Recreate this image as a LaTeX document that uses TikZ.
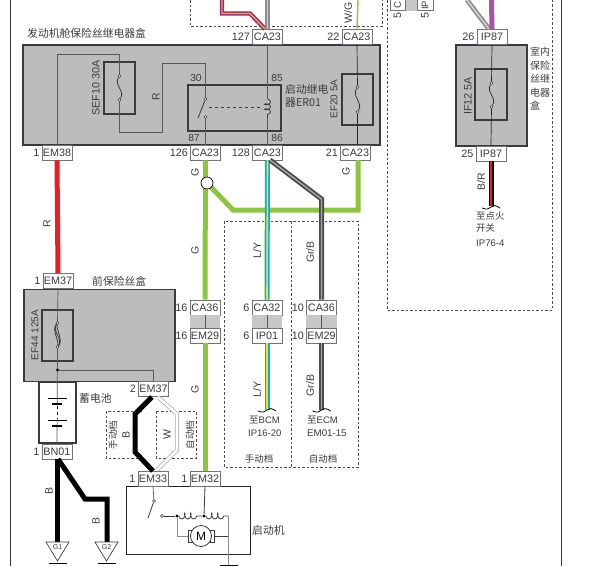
\documentclass[tikz,border=0pt]{standalone}
\usepackage{fontspec}
\setmainfont{Liberation Sans}
\newfontfamily\cjk{Noto Sans CJK SC}
\usetikzlibrary{positioning,decorations.pathmorphing}
\definecolor{boxgrey}{HTML}{BCBCBE}
\definecolor{edgegrey}{HTML}{3A3A3C}
\definecolor{txtgrey}{HTML}{3C3C3E}
\definecolor{wiregreen}{HTML}{8CC63F}
\definecolor{wireblue}{HTML}{00AEEF}
\definecolor{wirered}{HTML}{ED1C24}
\definecolor{wirepurple}{HTML}{92278F}
\definecolor{wireorange}{HTML}{F7A81B}
\tikzset{
  conn/.style={draw=black!55,fill=white,line width=0.8pt,minimum width=30pt,minimum height=15pt,inner sep=0pt,font=\fontsize{10.8}{10.8}\selectfont,text=txtgrey},
  pinno/.style={inner sep=0pt,font=\fontsize{10.8}{10.8}\selectfont,text=txtgrey},
  lbl/.style={inner sep=0pt,font=\fontsize{10.5}{10.5}\selectfont,text=txtgrey},
  sidelbl/.style={lbl,rotate=90},
  cn/.style={inner sep=0pt,font=\cjk\fontsize{10.8}{12.5}\selectfont,text=txtgrey,align=left},
  fusebox/.style={draw=edgegrey,line width=1.2pt,fill=boxgrey},
  thin wire/.style={draw=black!65,line width=0.7pt},
  dashbox/.style={draw=black!70,line width=0.7pt,dash pattern=on 2.5pt off 2pt},
  greenw/.style={wiregreen,line width=5pt},
  redw/.style={wirered,line width=5pt},
  blackw/.style={black,line width=5pt,line join=miter},
  blyw/.style={wireblue,line width=1.7pt,double=yellow!85!orange,double distance=1.6pt},
  grbw/.style={black!70,line width=1.8pt,double=black!35,double distance=1.4pt},
  brw/.style={black,line width=1.5pt,double=wirered,double distance=2pt},
  whw/.style={black!35,line width=0.7pt,double=white,double distance=2.6pt},
  gyw/.style={black!45,line width=1.6pt,double=black!18,double distance=1.6pt},
  puw/.style={wirepurple,line width=1.5pt,double=wireorange,double distance=1.4pt},
  pinhole/.style={circle,draw=edgegrey,fill=white,line width=0.6pt,minimum size=3pt,inner sep=0pt},
  dot/.style={circle,fill=black,minimum size=3.2pt,inner sep=0pt}
}
% tag with pin number: name, position, connector, pin
\newcommand{\tagbox}[4]{\node[conn] (#1) at (#2) {#3};
  \node[pinno,left=2pt of #1] (#1n) {#4};}
% fuse symbol between two pin holes
\newcommand{\fusesym}[4]{\node[pinhole] (#4t) at (#1,#2) {};
  \node[pinhole] (#4b) at (#1,#3) {};
  \draw[edgegrey,line width=0.8pt] (#4t) .. controls (#1-6,#2+9) and (#1+6,#3-9) .. (#4b);}
% cut wire end
\newcommand{\wireend}[2]{\draw[black,line width=0.8pt] (#1-9,#2+1) .. controls (#1-4,#2+3) and (#1-2,#2+2) .. (#1,#2) .. controls (#1+2,#2-2) and (#1+5,#2-2) .. (#1+9,#2+1);}
\begin{document}
\begin{tikzpicture}[x=1pt,y=-1pt]
  \useasboundingbox (0,0) rectangle (606,566);
  \fill[white] (0,0) rectangle (606,566);
  % page frame
  \draw[black!80,line width=0.9pt] (10,0) -- (10,566);
  \draw[black!80,line width=0.9pt] (561,0) -- (561,566);
  % dashed areas
  \draw[dashbox] (190,0) -- (190,26) -- (382,26) -- (382,0);
  \draw[dashbox] (387,0) -- (387,310) -- (552,310) -- (552,0);
  \draw[dashbox] (224,221) rectangle (358,467);
  \draw[dashbox,line width=1pt] (291,221) -- (291,467);
  \draw[dashbox] (142,411) -- (106,411) -- (106,458) -- (142,458);
  \draw[dashbox] (156,411) rectangle (196,458);

  % boxes
  \node[fusebox,minimum width=357pt,minimum height=100pt,inner sep=0pt] (enginebox) at (201.5,95) {};
  \node[fusebox,minimum width=71pt,minimum height=101pt,inner sep=0pt] (roombox) at (491.5,95.5) {};
  \node[fusebox,minimum width=151pt,minimum height=92pt,inner sep=0pt] (frontbox) at (99.5,335.5) {};
  \node[draw=edgegrey,line width=1.2pt,minimum width=37pt,minimum height=61pt,inner sep=0pt] (battbox) at (57.5,412.5) {};
  \node[draw=black!85,line width=1pt,minimum width=124pt,minimum height=68pt,inner sep=0pt] (startbox) at (188,520) {};
  \node[fusebox,minimum width=31pt,minimum height=52pt,inner sep=0pt] (sefbox) at (119.5,88) {};
  \node[fusebox,minimum width=93pt,minimum height=46pt,inner sep=0pt] (relaybox) at (234.5,108) {};
  \node[fusebox,minimum width=31pt,minimum height=51pt,inner sep=0pt] (efbox) at (357.5,99.5) {};
  \node[fusebox,minimum width=32pt,minimum height=51pt,inner sep=0pt] (ifbox) at (491,94.5) {};
  \node[fusebox,minimum width=31pt,minimum height=51pt,inner sep=0pt] (ef44box) at (57.5,335.5) {};

  % connectors
  \tagbox{ca127}{267.5,36.5}{CA23}{127}
  \tagbox{ca22}{357,36.5}{CA23}{22}
  \tagbox{em38}{57,152.5}{EM38}{1}
  \tagbox{ca126}{205.5,152.5}{CA23}{126}
  \tagbox{ca128}{267.5,152.5}{CA23}{128}
  \tagbox{ca21}{355.5,152.5}{CA23}{21}
  \tagbox{ipa}{492,37}{IP87}{26}
  \tagbox{ipb}{491,153.5}{IP87}{25}
  \tagbox{em37a}{58,281}{EM37}{1}
  \tagbox{em37b}{153.5,389}{EM37}{2}
  \tagbox{bn01}{57,451.5}{BN01}{1}
  \tagbox{em33}{153,478.5}{EM33}{1}
  \tagbox{em32}{205,478.5}{EM32}{1}
  \tagbox{ca36a}{205,307.5}{CA36}{16}
  \tagbox{em29a}{205,335.5}{EM29}{16}
  \tagbox{ca32}{267,307.5}{CA32}{6}
  \tagbox{ip01}{267,335.5}{IP01}{6}
  \tagbox{ca36b}{321.5,307.5}{CA36}{10}
  \tagbox{em29b}{321.5,335.5}{EM29}{10}
  \foreach \up/\lo in {ca36a/em29a,ca32/ip01,ca36b/em29b}{
    \fill[black!22] (\up.south west) rectangle (\lo.north east);
    \draw[thin wire] (\up.south) -- (\lo.north);
  }
  % cut connectors at the top edge
  \fill[black!22] (405,0) rectangle (417,11);
  \draw[black!55,line width=0.8pt,fill=white] (390,-2) rectangle (405,10);
  \draw[black!55,line width=0.8pt,fill=white] (417,-2) rectangle (433,10);
  \node[pinno,rotate=90,font=\fontsize{9.5}{9.5}\selectfont] (cutc) at (397.5,5) {C};
  \node[pinno,rotate=90,font=\fontsize{9.5}{9.5}\selectfont] (cutip) at (425,5.2) {IP};
  \node[pinno,rotate=90] (cutcn) at (397.5,15.5) {5};
  \node[pinno,rotate=90] (cutipn) at (425,15.5) {5};

  % wires between connectors
  \coordinate (gsplit) at (207,183);
  \draw[greenw] (ca126.south) -- (ca36a.north);
  \draw[greenw] (em29a.south) -- (em32.north);
  \draw[greenw] (gsplit) -- (233,210) -- (358,210) -- (358,160);
  \node[circle,draw=black,fill=white,line width=0.7pt,minimum size=12pt,inner sep=0pt] (gnode) at (gsplit) {};
  \draw[redw] (em38.south) -- (em37a.north);
  \draw[blyw] (ca128.south) -- (ca32.north);
  \draw[blyw] (ip01.south) -- (267,410);
  \draw[grbw] (270,160) -- (321.5,199) -- (ca36b.north);
  \draw[grbw] (em29b.south) -- (321.5,410);
  \draw[brw] (ipb.south) -- (491,206);
  \draw[blackw] (152,397) -- (135,414) -- (135,452) -- (153,471);
  \draw[whw] (158,397) -- (177,414) -- (177,450) -- (157,470);
  \draw[blackw] (57,459) -- (57,543);
  \draw[blackw] (58,459) -- (85,499) -- (107,499) -- (107,543);
  \draw[puw] (222,0) -- (222,13.5) -- (250,13.5) -- (265,29);
  \draw[gyw] (267.5,0) -- (ca127.north);
  \draw[wiregreen,line width=1.4pt] (358,0) -- (ca22.north);
  \draw[gyw] (467,0) -- (489,29);
  \draw[wirepurple!80,line width=5pt] (491.5,0) -- (ipa.north);
  \wireend{267}{410}
  \wireend{321.5}{410}
  \wireend{491}{207}

  % engine box inside
  \draw[thin wire] (em38.north) -- (57,54) -- (119.5,54) -- (119.5,76);
  \draw[thin wire] (119.5,100) -- (119.5,132) -- (162,132) -- (162,63) -- (205.5,63) -- (205.5,99);
  \fusesym{119.5}{76}{100}{sef}
  \node[pinhole] (sw30) at (205.5,99) {};
  \node[pinhole] (sw87) at (205.5,117) {};
  \draw[edgegrey,line width=0.8pt] (sw30) -- (198,118);
  \draw[thin wire] (sw87) -- (ca126.north);
  \draw[dashed,edgegrey,line width=0.7pt] (209,107) -- (262,107);
  \draw[thin wire] (ca127.south) -- (267.5,99);
  \draw[thin wire] (267.5,118) -- (ca128.north);
  \draw[edgegrey,line width=0.8pt,decorate,decoration={coil,aspect=0.5,segment length=5pt,amplitude=3pt}] (267.5,99) -- (267.5,118);
  \draw[black!85,line width=0.7pt] (ca22.south) -- (357.5,87);
  \draw[black!85,line width=0.7pt] (357.5,112) -- (357.5,145);
  \fusesym{357.5}{87}{112}{ef}

  % room box inside
  \draw[black!85,line width=0.7pt] (ipa.south) -- (491.5,83);
  \draw[black!85,line width=0.7pt] (491.5,107) -- (ipb.north);
  \fusesym{491.5}{83}{107}{if}

  % front fuse box inside
  \draw[thin wire] (em37a.south) -- (57.5,323);
  \draw[thin wire] (57.5,347) -- (bn01.north);
  \fusesym{57.5}{323}{347}{eff}
  \draw[edgegrey,line width=0.8pt] (efft) .. controls (51.5,330) and (59,340) .. (effb);
  \draw[edgegrey,line width=0.8pt] (efft) .. controls (56,330) and (63.5,340) .. (effb);
  \node[dot] (jfront) at (57.5,370) {};
  \draw[thin wire] (jfront) -- (153.5,370) -- (153.5,382);

  % battery
  \draw[black,line width=0.8pt] (48,398) -- (67,398);
  \draw[black,line width=1.8pt] (52,404) -- (62,404);
  \draw[black,line width=0.8pt] (48,420) -- (67,420);
  \draw[black,line width=1.8pt] (52,426) -- (62,426);
  \fill[white] (55,405) rectangle (60,419);
  \draw[black,line width=0.7pt,dashed] (57.5,406) -- (57.5,419);

  % starter
  \node[pinhole] (stsw) at (154,501) {};
  \node[pinhole] (stpin) at (162,516) {};
  \node[dot] (coila) at (177,516) {};
  \node[dot] (coilb) at (204,516) {};
  \coordinate (coilc) at (228,516);
  \coordinate (gndm) at (228,565);
  \draw[thin wire] (em33.south) -- (stsw);
  \draw[edgegrey,line width=0.8pt] (stsw) -- (148,518);
  \draw[edgegrey,line width=0.8pt] (stpin) -- (coila);
  \draw[edgegrey,line width=0.8pt] (em32.south) -- (coilb);
  \draw[edgegrey,line width=0.8pt,decorate,decoration={coil,aspect=0.5,segment length=6pt,amplitude=3pt,mirror}] (coila) -- (coilb);
  \draw[edgegrey,line width=0.8pt,decorate,decoration={coil,aspect=0.5,segment length=6pt,amplitude=3pt,mirror}] (coilb) -- (coilc);
  \draw[black!45,line width=0.9pt] (coilc) -- (gndm);
  \draw[black!45,line width=0.9pt] (coila) -- (177,536) -- (188,536);
  \draw[edgegrey,line width=0.8pt] (214,536) -- (228,536);
  \draw[edgegrey,line width=0.8pt,fill=white] (188,530) rectangle (192,542);
  \draw[edgegrey,line width=0.8pt,fill=white] (210,530) rectangle (214,542);
  \node[circle,draw=edgegrey,fill=white,line width=0.8pt,minimum size=21pt,inner sep=0pt,font=\fontsize{12}{12}\selectfont] (motor) at (201,536) {M};
  \draw[black,line width=1pt] (220,565) -- (238,565);

  % grounds
  \foreach \gx/\gn in {57.5/G1,106.5/G2}{
    \draw[black!75,line width=0.7pt,fill=white] (\gx-11.5,542) -- (\gx+11.5,542) -- (\gx,561) -- cycle;
    \node[inner sep=0pt,font=\fontsize{7}{7}\selectfont,text=txtgrey] (\gn) at (\gx,547.5) {\gn};
    \draw[black,line width=1pt] (\gx-9,563.5) -- (\gx+9,563.5);
  }

  % labels
  \node[cn,anchor=west] (title1) at (27,33) {发动机舱保险丝继电器盒};
  \node[cn,anchor=west] (title2) at (92,281) {前保险丝盒};
  \node[cn,anchor=west] (title3) at (285,96) {启动继电\\器ER01};
  \node[cn,anchor=north west,font=\cjk\fontsize{10}{13.5}\selectfont] (title4) at (530,47) {室内\\保险\\丝继\\电器\\盒};
  \node[cn,anchor=west] (title5) at (79,398) {蓄电池};
  \node[cn,anchor=west] (title6) at (252,530) {启动机};
  \node[cn,anchor=north west,font=\cjk\fontsize{9.4}{12}\selectfont] (title7) at (476,211) {至点火\\开关};
  \node[lbl,anchor=west,font=\fontsize{9.6}{9.6}\selectfont] (title8) at (476,243) {IP76-4};
  \node[cn,anchor=west,font=\cjk\fontsize{9.5}{9.5}\selectfont] (bcma) at (249,420) {至\fontspec{Liberation Sans}BCM};
  \node[lbl,anchor=west,font=\fontsize{9.5}{9.5}\selectfont] (bcmb) at (248,433) {IP16-20};
  \node[cn,anchor=west,font=\cjk\fontsize{9.5}{9.5}\selectfont] (ecma) at (307,420) {至\fontspec{Liberation Sans}ECM};
  \node[lbl,anchor=west,font=\fontsize{9.7}{9.7}\selectfont] (ecmb) at (307,433) {EM01-15};
  \node[cn,font=\cjk\fontsize{9.5}{9.5}\selectfont] (mta) at (259,459) {手动档};
  \node[cn,font=\cjk\fontsize{9.5}{9.5}\selectfont] (ata) at (323,459) {自动档};
  \node[cn,rotate=90,font=\cjk\fontsize{9.5}{9.5}\selectfont] (mtb) at (113,435) {手动档};
  \node[cn,rotate=90,font=\cjk\fontsize{9.5}{9.5}\selectfont] (atb) at (190,435) {自动档};

  \node[sidelbl,font=\fontsize{10.8}{10.8}\selectfont] (sefl) at (96,88) {SEF10 30A};
  \node[sidelbl,font=\fontsize{9.9}{9.9}\selectfont] (efl) at (334,99) {EF20 5A};
  \node[sidelbl,font=\fontsize{10.8}{10.8}\selectfont] (ifl) at (468,96) {IF12 5A};
  \node[sidelbl,font=\fontsize{10}{10}\selectfont] (ef44l) at (35,335) {EF44 125A};
  \node[pinno,font=\fontsize{10.2}{10.2}\selectfont] (p30) at (196,78) {30};
  \node[pinno,font=\fontsize{10.2}{10.2}\selectfont] (p85) at (277,78) {85};
  \node[pinno,font=\fontsize{10.2}{10.2}\selectfont] (p87) at (194,138) {87};
  \node[pinno,font=\fontsize{10.2}{10.2}\selectfont] (p86) at (277,138) {86};
  \node[sidelbl] (lr1) at (156,97) {R};
  \node[sidelbl] (lr2) at (47,224) {R};
  \node[sidelbl] (lwg) at (348,12.5) {W/G};
  \node[sidelbl] (lbr) at (481,182) {B/R};
  \node[sidelbl] (lg1) at (195,172) {G};
  \node[sidelbl] (lg2) at (346,171) {G};
  \node[sidelbl] (lg3) at (195,250) {G};
  \node[sidelbl] (lg4) at (195,389) {G};
  \node[sidelbl] (lly1) at (257,250.5) {L/Y};
  \node[sidelbl] (lly2) at (257,389.5) {L/Y};
  \node[sidelbl] (lgb1) at (310,252) {Gr/B};
  \node[sidelbl] (lgb2) at (310,385.5) {Gr/B};
  \node[sidelbl] (lb1) at (126,435) {B};
  \node[sidelbl] (lw) at (167,435) {W};
  \node[sidelbl] (lb2) at (49,491) {B};
  \node[sidelbl] (lb3) at (96,521) {B};
\end{tikzpicture}
\end{document}
